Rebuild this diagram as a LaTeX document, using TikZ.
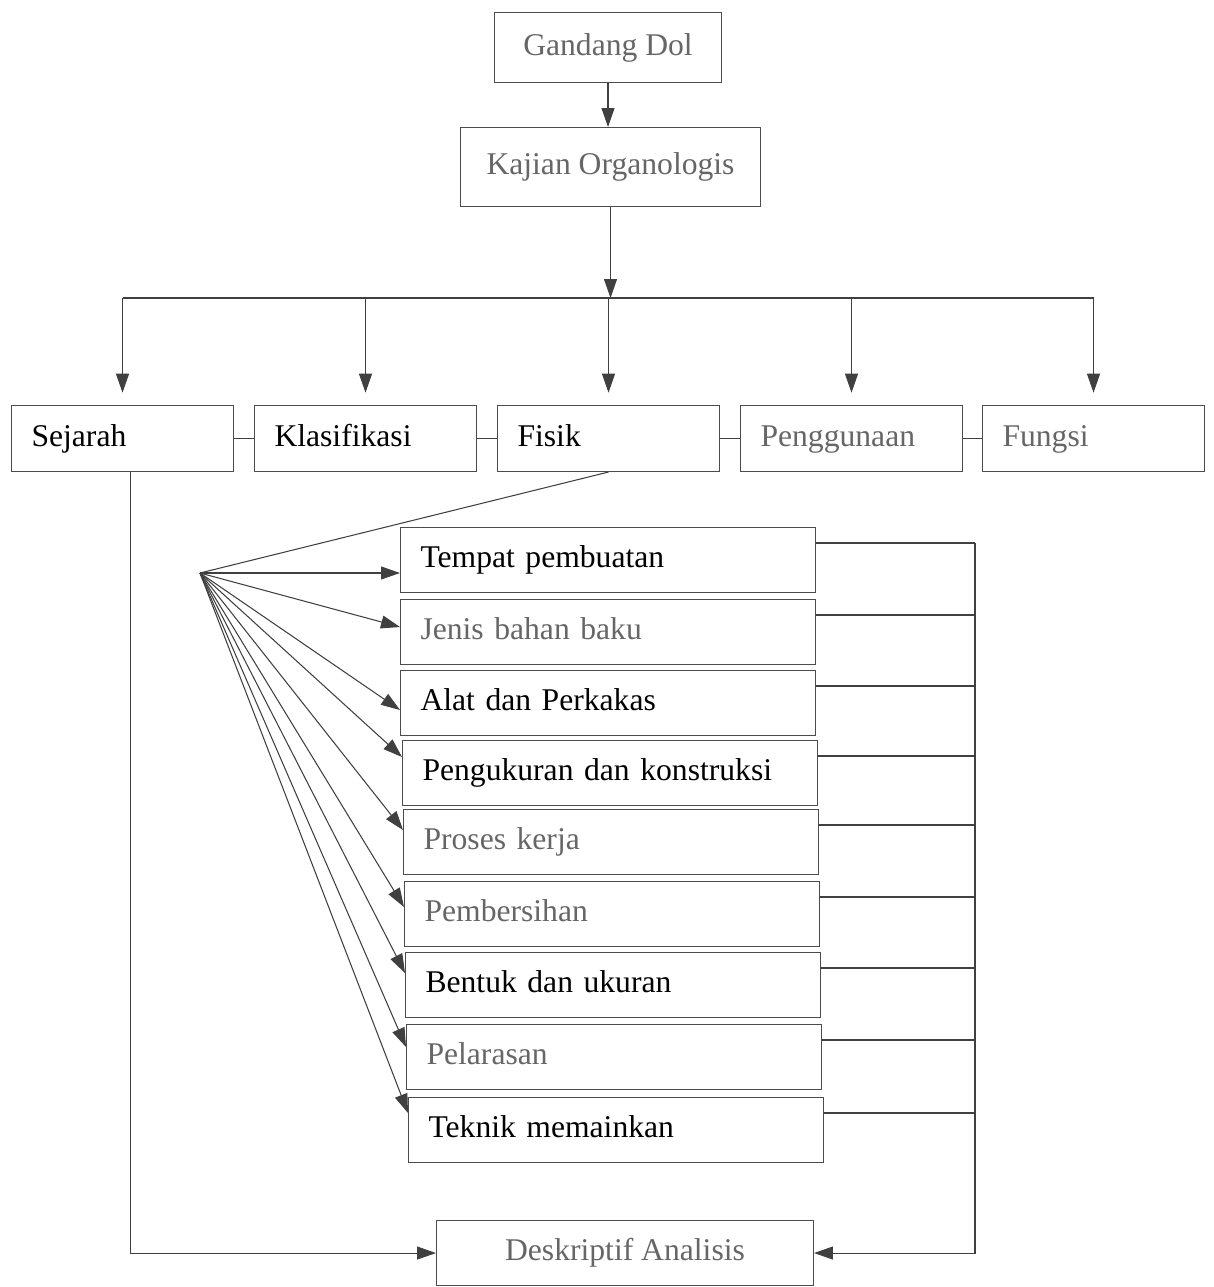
\documentclass[tikz,border=0pt]{standalone}
\usepackage{fontspec}
\setmainfont{Liberation Serif}
\usetikzlibrary{arrows.meta,positioning,calc}

\begin{document}
\begin{tikzpicture}[
        x=0.02cm,
        y=-0.02cm,
        font=\fontsize{18}{21}\selectfont,
        line/.style={black!75, line width=0.6pt},
        tip/.style={line, -{Triangle[length=0.38cm, width=0.26cm]}},
        box/.style={draw=black!70, line width=0.6pt, anchor=north west, inner xsep=0.4cm, inner ysep=0pt, text height=13pt, text depth=4pt, minimum height=1.32cm, align=left},
        topbox/.style={box, text width=3.64cm},
        subbox/.style={box, text width=7.5cm, minimum height=1.3cm},
        midbox/.style={draw=black!70, line width=0.6pt, anchor=north west, text height=13pt, text depth=4pt, align=center},
        pale/.style={text=black!60}
    ]
        \useasboundingbox (0,0) rectangle (1213,1287);

        % Head of the chart.
        \node[midbox, pale, minimum width=4.54cm, minimum height=1.4cm] (gan) at (494,12) {Gandang Dol};
        \node[midbox, pale, minimum width=6cm, minimum height=1.58cm] (kaj) at (460,127) {Kajian Organologis};
        \draw[tip] (gan.south) -- (gan.south |- kaj.north);

        % Five aspects.
        \foreach \x/\name/\lab/\col in {11/sej/Sejarah/black,254/kla/Klasifikasi/black,497/fis/Fisik/black,740/pen/Penggunaan/black!60,982/fun/Fungsi/black!60} {
            \node[topbox, text=\col] (\name) at (\x,405) {\lab};
        }
        \coordinate (bus) at (605,298);
        \draw[tip] (kaj.south) -- (kaj.south |- bus);
        \draw[line] (sej.north |- bus) -- (fun.north |- bus);
        \foreach \n in {sej,kla,fis,pen,fun} {
            \draw[tip, shorten >=7pt] (\n.north |- bus) -- (\n.north);
        }
        \draw[line] (sej) -- (kla);
        \draw[line] (kla) -- (fis);
        \draw[line] (fis) -- (pen);
        \draw[line] (pen) -- (fun);

        % Physical study.
        \foreach \i/\x/\y/\lab/\col in {1/400/527/Tempat pembuatan/black,2/400/599/Jenis bahan baku/black!60,3/400/670/Alat dan Perkakas/black,4/402/740/Pengukuran dan konstruksi/black,5/403/809/Proses kerja/black!60,6/404/881/Pembersihan/black!60,7/405/952/Bentuk dan ukuran/black,8/406/1024/Pelarasan/black!60,9/408/1097/Teknik memainkan/black} {
            \node[subbox, text=\col] (m\i) at (\x,\y) {\lab};
        }
        \coordinate (fan) at (200,573);
        \draw[line] (fis.south) -- (fan);
        \foreach \i/\dy in {1/46,2/28,3/40,4/17,5/21,6/26,7/21,8/23,9/16} {
            \draw[tip] (fan) -- ($(m\i.north west)+(0,\dy)$);
        }

        % Analysis.
        \node[midbox, pale, minimum width=7.54cm, minimum height=1.3cm] (des) at (436,1220) {Deskriptif Analisis};
        \coordinate (rail) at (975,543);
        \foreach \i in {1,...,9} {
            \coordinate (r\i) at ($(m\i.north east)+(0,16)$);
            \draw[line] (r\i) -- (r\i -| rail);
        }
        \draw[tip] (rail) |- (des.east);
        \draw[tip] ([xshift=0.16cm]sej.south) |- (des.west);
    \end{tikzpicture}
\end{document}
